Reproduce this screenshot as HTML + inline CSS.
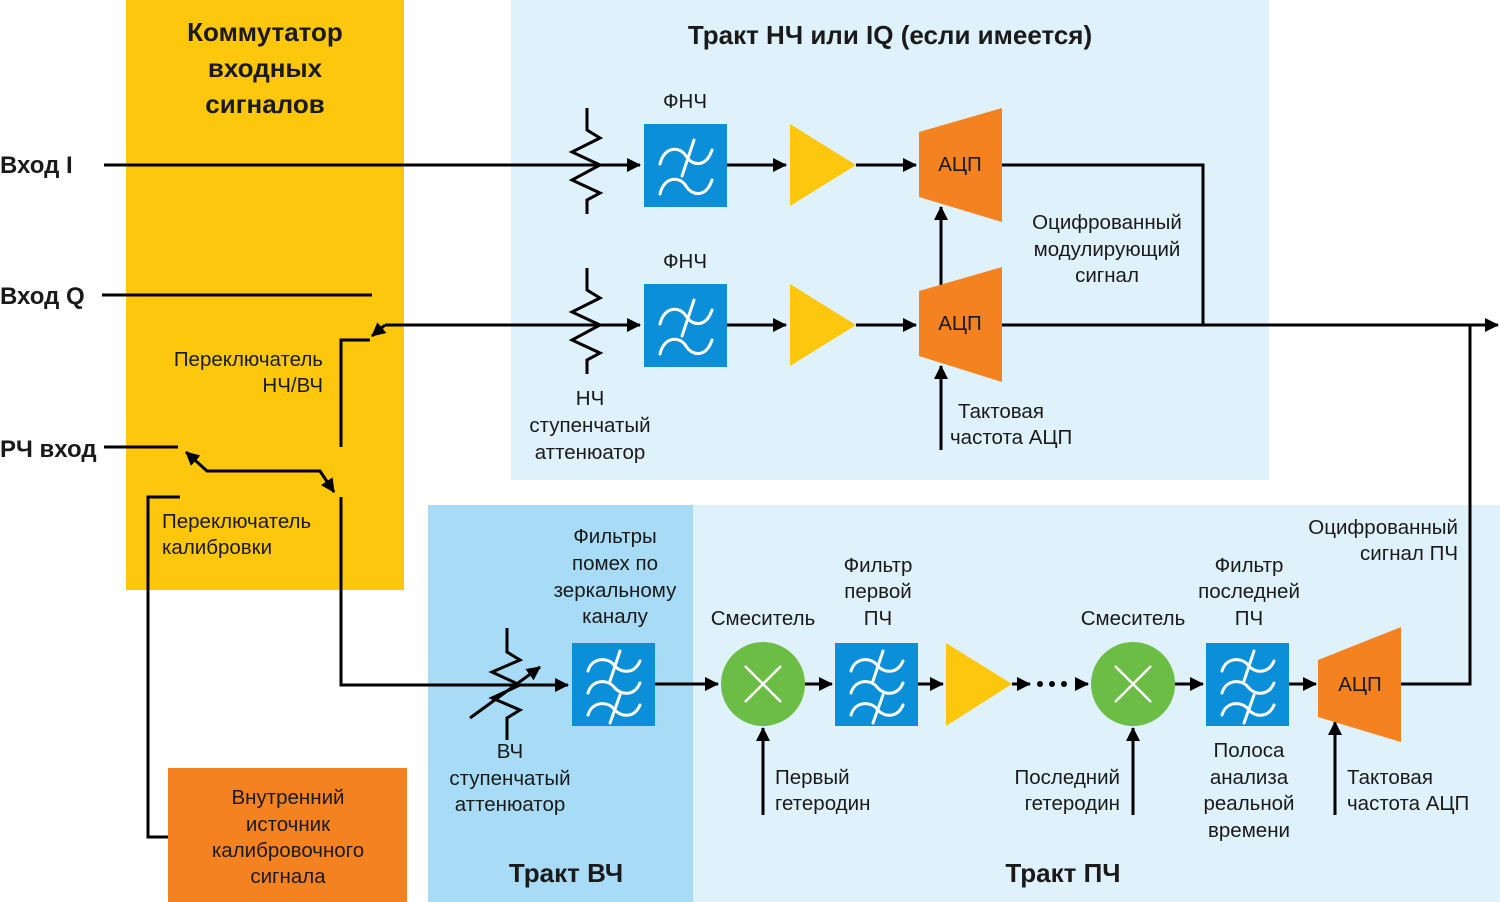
<!DOCTYPE html>
<html><head><meta charset="utf-8"><style>
html,body{margin:0;padding:0;background:#fff}
svg{display:block}
text{font-family:"Liberation Sans",sans-serif;fill:#1a1a1a}
.t{font-size:20.5px}
.b{font-size:26px;font-weight:bold}
</style></head><body>
<svg width="1500" height="902" viewBox="0 0 1500 902" xmlns="http://www.w3.org/2000/svg">
<defs>
<marker id="as" markerWidth="14" markerHeight="14" refX="13" refY="7" orient="auto-start-reverse" markerUnits="userSpaceOnUse" viewBox="0 0 14 14"><path d="M0,0L14,7L0,14z" fill="#000"/></marker>
</defs>
<rect x="126" y="0" width="278" height="590" fill="#fcc70d"/>
<rect x="511" y="0" width="758" height="480" fill="#dff1fb"/>
<rect x="428" y="505" width="265" height="397" fill="#a8dbf5"/>
<rect x="693" y="505" width="807" height="397" fill="#dff1fb"/>
<rect x="168" y="768" width="239" height="134" fill="#f58220"/>

<g stroke="#000" stroke-width="3" fill="none">
<line x1="104" y1="165" x2="640" y2="165" marker-end="url(#as)"/>
<line x1="102" y1="295" x2="372" y2="295"/>
<line x1="640" y1="325" x2="385" y2="325"/>
<line x1="620" y1="325" x2="640" y2="325" marker-end="url(#as)"/>
<line x1="385" y1="325" x2="372" y2="336" marker-end="url(#as)"/>
<polyline points="370,340 341,340 341,447"/>
<line x1="104" y1="447" x2="178" y2="447"/>
<polyline points="186,452 207,471 320,471 334,492" marker-start="url(#as)" marker-end="url(#as)"/>
<polyline points="341,497 341,685 568,685" marker-end="url(#as)"/>
<polyline points="180,497 148,497 148,837 168,837"/>
<line x1="727" y1="165" x2="786" y2="165" marker-end="url(#as)"/>
<line x1="856" y1="165" x2="916" y2="165" marker-end="url(#as)"/>
<line x1="727" y1="325" x2="786" y2="325" marker-end="url(#as)"/>
<line x1="856" y1="325" x2="916" y2="325" marker-end="url(#as)"/>
<polyline points="1002,165 1203,165 1203,325"/>
<line x1="1002" y1="325" x2="1498" y2="325" marker-end="url(#as)"/>
<line x1="941" y1="290" x2="941" y2="207" marker-end="url(#as)"/>
<line x1="941" y1="450" x2="941" y2="366" marker-end="url(#as)"/>
<polyline points="1470,325 1470,684 1401,684"/>
<line x1="655" y1="684" x2="718" y2="684" marker-end="url(#as)"/>
<line x1="805" y1="684" x2="832" y2="684" marker-end="url(#as)"/>
<line x1="918" y1="684" x2="943" y2="684" marker-end="url(#as)"/>
<line x1="1012" y1="684" x2="1030" y2="684" marker-end="url(#as)"/>
<line x1="1075" y1="684" x2="1088" y2="684" marker-end="url(#as)"/>
<line x1="1175" y1="684" x2="1203" y2="684" marker-end="url(#as)"/>
<line x1="1289" y1="684" x2="1316" y2="684" marker-end="url(#as)"/>
<line x1="763" y1="815" x2="763" y2="728" marker-end="url(#as)"/>
<line x1="1133" y1="815" x2="1133" y2="728" marker-end="url(#as)"/>
<line x1="1335" y1="815" x2="1335" y2="722" marker-end="url(#as)"/>
<polyline points="587,108 587,130 600,138 572,152 600,165 572,180 600,193 587,200 587,214"/>
<polyline points="587,268 587,290 600,298 572,312 600,325 572,340 600,353 587,360 587,374"/>
<polyline points="507,628 507,652 520,660 492,672 520,685 492,698 520,710 507,718 507,740"/>
<line x1="470" y1="718" x2="540" y2="667" marker-end="url(#as)"/>
</g>
<g fill="#000"><circle cx="1040" cy="684" r="3"/><circle cx="1052" cy="684" r="3"/><circle cx="1064" cy="684" r="3"/></g>

<g fill="#0a8fd8"><rect x="644" y="124" width="83" height="83"/><rect x="644" y="284" width="83" height="83"/>
<rect x="572" y="643" width="83" height="83"/><rect x="835" y="643" width="83" height="83"/><rect x="1206" y="643" width="83" height="83"/></g>
<g stroke="#fff" stroke-width="3" fill="none" stroke-linecap="round">
<g transform="translate(644,124)"><path d="M16,40 C20,22 36,22 42,32 S62,44 68,26"/><line x1="38" y1="52" x2="50" y2="16"/><path d="M16,70 C20,52 36,52 42,62 S62,74 68,56"/></g>
<g transform="translate(644,284)"><path d="M16,40 C20,22 36,22 42,32 S62,44 68,26"/><line x1="38" y1="52" x2="50" y2="16"/><path d="M16,70 C20,52 36,52 42,62 S62,74 68,56"/></g>
<path transform="translate(572,643)" d="M16,28 C20,14 36,14 42,22 S62,32 68,18 M38,38 L48,8 M16,50 C20,36 36,36 42,44 S62,54 68,40 M16,72 C20,58 36,58 42,66 S62,76 68,62 M38,80 L48,52"/>
<path transform="translate(835,643)" d="M16,28 C20,14 36,14 42,22 S62,32 68,18 M38,38 L48,8 M16,50 C20,36 36,36 42,44 S62,54 68,40 M16,72 C20,58 36,58 42,66 S62,76 68,62 M38,80 L48,52"/>
<path transform="translate(1206,643)" d="M16,28 C20,14 36,14 42,22 S62,32 68,18 M38,38 L48,8 M16,50 C20,36 36,36 42,44 S62,54 68,40 M16,72 C20,58 36,58 42,66 S62,76 68,62 M38,80 L48,52"/>
</g>
<g fill="#fcc70d"><polygon points="790,124 856,165 790,206"/><polygon points="790,284 856,325 790,366"/><polygon points="946,643 1012,684 946,726"/></g>
<g fill="#f58220"><polygon points="919,132 1002,108 1002,222 919,197"/><polygon points="919,291 1002,267 1002,382 919,356"/><polygon points="1318,660 1401,627 1401,742 1318,717"/></g>
<g fill="#6cbd45"><circle cx="763" cy="684" r="42"/><circle cx="1133" cy="684" r="42"/></g>
<g stroke="#fff" stroke-width="2.5"><path d="M745,666L781,702M781,666L745,702"/><path d="M1115,666L1151,702M1151,666L1115,702"/></g>

<g class="t">
<text x="960" y="171" text-anchor="middle">АЦП</text>
<text x="960" y="330" text-anchor="middle">АЦП</text>
<text x="1360" y="691" text-anchor="middle">АЦП</text>
<text x="685" y="108" text-anchor="middle">ФНЧ</text>
<text x="685" y="268" text-anchor="middle">ФНЧ</text>
<text x="590" y="405" text-anchor="middle">НЧ</text>
<text x="590" y="432" text-anchor="middle">ступенчатый</text>
<text x="590" y="459" text-anchor="middle">аттенюатор</text>
<text x="1107" y="229" text-anchor="middle">Оцифрованный</text>
<text x="1107" y="256" text-anchor="middle">модулирующий</text>
<text x="1107" y="282" text-anchor="middle">сигнал</text>
<text x="958" y="418">Тактовая</text>
<text x="950" y="444">частота АЦП</text>
<text x="323" y="366" text-anchor="end">Переключатель</text>
<text x="323" y="392" text-anchor="end">НЧ/ВЧ</text>
<text x="162" y="528">Переключатель</text>
<text x="162" y="554">калибровки</text>
<text x="288" y="804" text-anchor="middle">Внутренний</text>
<text x="288" y="831" text-anchor="middle">источник</text>
<text x="288" y="857" text-anchor="middle">калибровочного</text>
<text x="288" y="883" text-anchor="middle">сигнала</text>
<text x="615" y="543" text-anchor="middle">Фильтры</text>
<text x="615" y="570" text-anchor="middle">помех по</text>
<text x="615" y="597" text-anchor="middle">зеркальному</text>
<text x="615" y="623" text-anchor="middle">каналу</text>
<text x="510" y="758" text-anchor="middle">ВЧ</text>
<text x="510" y="785" text-anchor="middle">ступенчатый</text>
<text x="510" y="811" text-anchor="middle">аттенюатор</text>
<text x="763" y="625" text-anchor="middle">Смеситель</text>
<text x="1133" y="625" text-anchor="middle">Смеситель</text>
<text x="878" y="572" text-anchor="middle">Фильтр</text>
<text x="878" y="598" text-anchor="middle">первой</text>
<text x="878" y="625" text-anchor="middle">ПЧ</text>
<text x="1249" y="572" text-anchor="middle">Фильтр</text>
<text x="1249" y="598" text-anchor="middle">последней</text>
<text x="1249" y="625" text-anchor="middle">ПЧ</text>
<text x="1458" y="534" text-anchor="end">Оцифрованный</text>
<text x="1458" y="560" text-anchor="end">сигнал ПЧ</text>
<text x="775" y="784">Первый</text>
<text x="775" y="810">гетеродин</text>
<text x="1120" y="784" text-anchor="end">Последний</text>
<text x="1120" y="810" text-anchor="end">гетеродин</text>
<text x="1249" y="757" text-anchor="middle">Полоса</text>
<text x="1249" y="784" text-anchor="middle">анализа</text>
<text x="1249" y="810" text-anchor="middle">реальной</text>
<text x="1249" y="837" text-anchor="middle">времени</text>
<text x="1347" y="784">Тактовая</text>
<text x="1347" y="810">частота АЦП</text>
</g>
<g class="b">
<text x="265" y="41" text-anchor="middle">Коммутатор</text>
<text x="265" y="77" text-anchor="middle">входных</text>
<text x="265" y="113" text-anchor="middle">сигналов</text>
<text x="890" y="44" text-anchor="middle">Тракт НЧ или IQ (если имеется)</text>
<text x="566" y="882" text-anchor="middle">Тракт ВЧ</text>
<text x="1063" y="882" text-anchor="middle">Тракт ПЧ</text>
<text x="0" y="173" style="font-size:24px">Вход I</text>
<text x="0" y="304" style="font-size:24px">Вход Q</text>
<text x="0" y="457" style="font-size:24px">РЧ вход</text>
</g>
</svg>
</body></html>
